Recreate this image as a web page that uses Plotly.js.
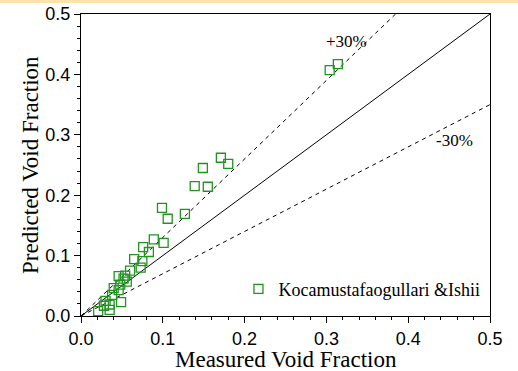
<!DOCTYPE html>
<html>
<head>
<meta charset="utf-8">
<script src="https://cdn.plot.ly/plotly-3.0.1.min.js"></script>
<style>
html,body{margin:0;padding:0;background:#fff;}
#chart{width:518px;height:371px;}
</style>
</head>
<body>
<div id="chart"></div>
<script>
// Data
var measured = [0.314,0.304,0.171,0.180,0.149,0.139,0.155,0.099,0.106,0.127,0.089,0.101,0.076,0.083,0.065,0.075,0.073,0.060,0.054,0.046,0.056,0.048,0.040,0.046,0.038,0.049,0.035,0.028,0.035,0.021,0.030,0.052];
var predicted = [0.417,0.407,0.262,0.252,0.245,0.215,0.214,0.179,0.161,0.169,0.127,0.121,0.114,0.106,0.094,0.091,0.080,0.075,0.067,0.066,0.057,0.052,0.046,0.043,0.035,0.023,0.019,0.017,0.010,0.008,0.025,0.062];
var seriesName = "Kocamustafaogullari &Ishii";

var perfectX = [0, 0.5], perfectY = [0, 0.5];
var plus30X = [0, 0.3846], plus30Y = [0, 0.5];
var minus30X = [0, 0.5], minus30Y = [0, 0.35];

var tickVals = [0, 0.1, 0.2, 0.3, 0.4, 0.5];
var tickText = ["0.0", "0.1", "0.2", "0.3", "0.4", "0.5"];
var xTitle = "Measured Void Fraction";
var yTitle = "Predicted Void Fraction";

var serif = "Liberation Serif, Times New Roman, serif";
var sans = "Liberation Sans, Arial, sans-serif";

var traces = [
  {x: perfectX, y: perfectY, mode: "lines", line: {color: "#000", width: 1}, showlegend: false, hoverinfo: "skip"},
  {x: plus30X, y: plus30Y, mode: "lines", line: {color: "#000", width: 1, dash: "4px,4px"}, showlegend: false, hoverinfo: "skip"},
  {x: minus30X, y: minus30Y, mode: "lines", line: {color: "#000", width: 1, dash: "4px,4px"}, showlegend: false, hoverinfo: "skip"},
  {x: measured, y: predicted, mode: "markers", name: seriesName, cliponaxis: false,
   marker: {symbol: "square-open", size: 9, color: "#1f951f", line: {width: 1.3, color: "#1f951f"}}}
];

function axis() {
  return {
    range: [0, 0.5], autorange: false,
    tickmode: "array", tickvals: tickVals, ticktext: tickText,
    ticks: "outside", ticklen: 6, tickwidth: 1, tickcolor: "#000",
    minor: {ticks: "outside", dtick: 0.02, tick0: 0, ticklen: 3, tickwidth: 1, tickcolor: "#000", showgrid: false},
    showline: true, linecolor: "#000", linewidth: 1, mirror: true,
    showgrid: false, zeroline: false,
    tickfont: {family: sans, size: 18, color: "#000"}
  };
}

var layout = {
  width: 518, height: 371,
  margin: {l: 81, r: 28, t: 14, b: 55},
  paper_bgcolor: "#fff", plot_bgcolor: "#fff",
  xaxis: axis(),
  yaxis: axis(),
  showlegend: true,
  legend: {x: 0.385, y: 0.089, xanchor: "left", yanchor: "middle", bgcolor: "rgba(0,0,0,0)",
           font: {family: serif, size: 18, color: "#000"}},
  annotations: [
    {x: 0.5, y: (316 - 359) / 302, xref: "paper", yref: "paper", xanchor: "center", yanchor: "middle",
     text: xTitle, showarrow: false, font: {family: serif, size: 23, color: "#000"}},
    {x: (30 - 81) / 409, y: 0.5, xref: "paper", yref: "paper", xanchor: "center", yanchor: "middle",
     textangle: -90, text: yTitle, showarrow: false, font: {family: serif, size: 23, color: "#000"}},
    {x: 0.325, y: 0.454, xref: "x", yref: "y", text: "+30%", showarrow: false,
     font: {family: serif, size: 17, color: "#000"}},
    {x: 0.457, y: 0.291, xref: "x", yref: "y", text: "-30%", showarrow: false,
     font: {family: serif, size: 17, color: "#000"}}
  ],
  shapes: [
    {type: "rect", xref: "paper", yref: "paper", x0: -81/409, x1: 1 + 28/409, y0: 1 + 11/302, y1: 1 + 14/302,
     fillcolor: "#fde2ab", line: {width: 0}, layer: "below"}
  ]
};

Plotly.newPlot("chart", traces, layout, {displayModeBar: false, staticPlot: true});
</script>
</body>
</html>
